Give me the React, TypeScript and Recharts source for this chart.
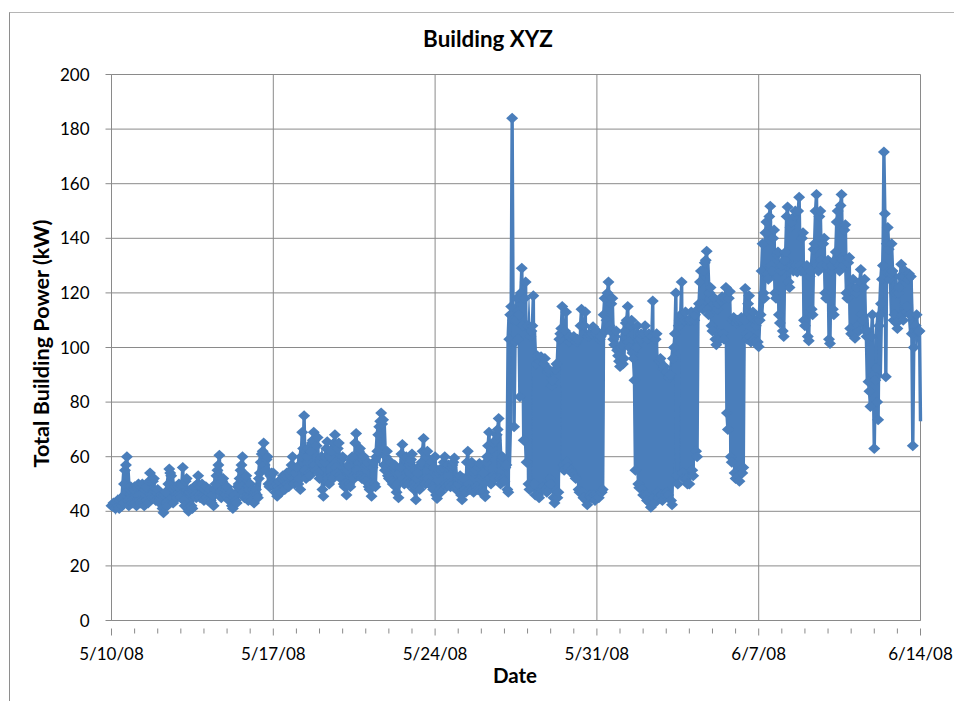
import React from "react";
import { ComposedChart, Area, Line, XAxis, YAxis, CartesianGrid } from "recharts";

const chartTitle = "Building XYZ";
const xTitle = "Date";
const yTitle = "Total Building Power (kW)";
const SAMPLES_PER_DAY = 24;

// Readings on the even hours, one row per day
const week1 = [
  42,43,41,44,41,45,43,55,60,42,49,43,
  49,42,50,43,50,42,49,43,54,45,52,44,
  48,43,46,39.5,47,42,55.5,53,43,49,45,50,
  45,56,42,52,40,48,41,49,45,53,45,50,
  44,49,44,48,43,42,50,55,60.5,45,52,46,
  49,44,47,41,46,43,50,55,60,45,53,44,
  50,44,43,48,45,54,61,65,55,60,49,54,
];
const week2 = [
  54,47,45.5,51,47,53,48,54,49,55,60,50,
  56,50,48,69,75,52,63,53,65,69,55,67,
  52,60,45.5,60,65.5,50,62,52,68,54,65,52,
  60,49,46,57,49,60,52,68.5,53,63,52,60,
  51,58,48,45.5,58,49,62,71,76,73.5,55,62,
  52,58,50,57,47,45,56,64.5,50,60,50,58,
  61,48,44.2,54,48,58,66.7,50,62,50,58,48,
];
const week3 = [
  60,44.7,55,47,56,60,49,57,49,57,59.5,48,
  50,53,44.2,52,47,62,48,58,47,55,48,57.5,
  47,54,45.3,60,69,50,65,52,68,74,50,60,
  51,57,47,112,184,71,110,103,82,129,66,124,
  108,48,106,119,46,97,45,96.6,49,96,47,92,
  50,88,43,94,47,105,115,55,113,56,104,54,
  104,52,103,47,114,45,113,42.4,105,45,107.6,44,
];
const week4 = [
  106,45,104,48,118,110,124,106,118,101,106,97,
  93,101,96,109,115,100,110,96,55,108,48.6,105,
  46,108,44,105,41.5,117,43,105,45,96,44,93,
  91,46,90,42.4,100,120,50,110,124,52,113,50,
  50,113,53,112,60,116,128,114,131,135.3,112,122,
  106,118,101,116,103,118.6,103,122,70,120.5,58,111,
  52,110,51,111,56,121.6,103,119,102,113,102,110,
];
const week5 = [
  100.3,112,138,118,146,125,151.7,128,143,118,135,109,
  130,104,135,151.5,122,146,128,150,127.7,155,128,142,
  108,130,102.5,128,112,138,156,128,150,130,140,118,
  132,101.5,130,112,135,150,128,156,130,145,118,133,
  105,125,103.4,122,106,128.6,110,125,104,87.5,78.4,112,
  63,92.5,73.5,112,125,171.6,89.3,144,125,138,110,120,
  107,122,130.5,110,128,115,127,126,64,106,112,105.8,
  73,
];

// Readings on the odd hours, one row per day
const oddHours1 = [
  42,42,43,42,44,42,50,57,44,48,44,48,
  43,49,44,49,43,48,44,51,46,51,45,47,
  44,45,41,46,43,50,54,45,48,46,49,46,
  50,44,51,41,47,42,48,46,50,46,49,45,
  48,45,47,44,46,48,53,57,47,51,47,48,
  45,46,42,45,44,49,52,57,47,52,45,48,
  45,48,47,46,52,58,62,57,59,50,53,50,
];
const oddHours2 = [
  49,50,49,48,52,49,53,50,54,57,52,54,
  51,52,60,63,55,60,54,62,66,57,64,54,
  58,48,58,63,52,60,53,65,56,63,53,59,
  50,50,55,50,59,53,65,55,62,53,59,52,
  57,49,50,56,50,60,68,73,72,57,60,53,
  57,51,56,49,50,54,61,52,59,51,57,59,
  50,49,52,49,57,62,52,60,52,57,49,56,
];
const oddHours3 = [
  46,54,48,55,58,50,56,50,56,58,49,49,
  52,46,51,48,58,50,57,48,54,49,56,48,
  53,47,58,64,52,63,53,66,70,52,59,52,
  56,48,103,115,110,102,118,112,120,108,118,58,
  50,104,108,50,94,46,95,48,94,48,91,52,
  86,45,92,45,103,107,57,106,58,102,55,103,
  53,102,48,108,47,108,44,104,46,105,46,105,
];
const oddHours4 = [
  46,103,47,112,106,120,108,116,103,104,99,95,
  100,94,106,110,102,108,98,88,100,50,103,48,
  105,46,103,43,104,45,103,47,95,46,92,46,
  47,89,44,96,105,53,108,112,54,110,52,110,
  110,55,110,62,114,124,116,128,132,114,120,108,
  116,103,114,105,117,105,118,76,118,60,110,54,
  109,53,110,54,110,105,116,104,111,103,108,102,
];
const oddHours5 = [
  110,128,120,142,127,148,130,140,120,134,112,128,
  106,132,148,124,144,130,148,130,150,130,140,110,
  128,104,126,114,136,150,130,148,132,138,120,130,
  103,128,114,132,146,130,152,132,143,120,131,107,
  122,105,120,108,124,112,122,106,106,84,104,90,
  88,80,108,116,130,149,138,136,127,128,112,109,
  120,126,112,126,113,125,112,105,100,108,106,106,
];

const evenReadings = [...week1, ...week2, ...week3, ...week4, ...week5];
const oddReadings = [...oddHours1, ...oddHours2, ...oddHours3, ...oddHours4, ...oddHours5];
const powerValues = evenReadings.flatMap((v, i) => (i < oddReadings.length ? [v, oddReadings[i]] : [v]));

const yTicks = [0, 20, 40, 60, 80, 100, 120, 140, 160, 180, 200];
const dayTicks = [0,1,2,3,4,5,6,7,8,9,10,11,12,13,14,15,16,17,18,19,20,21,22,23,24,25,26,27,28,29,30,31,32,33,34,35];
const majorDays = [0, 7, 14, 21, 28, 35];
const majorLabels = ["5/10/08", "5/17/08", "5/24/08", "5/31/08", "6/7/08", "6/14/08"];

// The samples are so dense that the markers merge: the range covered by each
// sample's neighbours is painted solid, ignoring isolated spikes.
const HALF_WINDOW = 5;
const SKIP_EXTREMES = 2;
const chartData = powerValues.map((power, i) => {
  const near = powerValues
    .slice(Math.max(0, i - HALF_WINDOW), i + HALF_WINDOW + 1)
    .sort((a, b) => a - b);
  const lo = near[Math.min(SKIP_EXTREMES, near.length - 1)];
  const hi = near[Math.max(0, near.length - 1 - SKIP_EXTREMES)];
  return { day: i / SAMPLES_PER_DAY, power, solid: [lo, hi] };
});

const FONT = "Lato, Carlito, sans-serif";
const GRID = "#8a8a8a";
const BLUE = "#4a7ebb";

function Diamond(props: any) {
  const { cx, cy, index } = props;
  if (index === chartData.length - 1) return <g key={index} />;
  return (
    <polygon
      key={index}
      points={`${cx - 6},${cy} ${cx},${cy - 5.5} ${cx + 6},${cy} ${cx},${cy + 5.5}`}
      fill={BLUE}
    />
  );
}

function DayTick(props: any) {
  const { x, y, payload } = props;
  const m = majorDays.indexOf(payload.value);
  return (
    <g>
      <line x1={x} x2={x} y1={y} y2={y + (m >= 0 ? 7 : 5)} stroke={GRID} />
      {m >= 0 && (
        <text x={x} y={y + 31} textAnchor="middle" fontFamily={FONT} fontSize={17} fill="#000">
          {majorLabels[m]}
        </text>
      )}
    </g>
  );
}

export default function App() {
  return (
    <div style={{ position: "absolute", left: 0, top: 0, width: 954, height: 701, background: "#fff", overflow: "hidden" }}>
      <div style={{ position: "absolute", left: 9, top: 12, right: -2, bottom: -2, borderLeft: "1px solid #8e8e8e", borderTop: "1px solid #b5b5b5" }} />
      <ComposedChart
        width={954}
        height={701}
        data={chartData}
        margin={{ top: 74.5, left: 51.5, right: 33.5, bottom: 40.5 }}
        style={{ position: "absolute", left: 0, top: 0 }}
      >
        <CartesianGrid stroke={GRID} verticalValues={majorDays} horizontalValues={yTicks} />
        <XAxis
          dataKey="day"
          type="number"
          domain={[0, 35]}
          ticks={dayTicks}
          interval={0}
          height={40}
          axisLine={{ stroke: GRID }}
          tickLine={false}
          tick={<DayTick />}
        />
        <YAxis
          type="number"
          domain={[0, 200]}
          ticks={yTicks}
          interval={0}
          width={60}
          axisLine={{ stroke: GRID }}
          tickLine={{ stroke: GRID }}
          tickSize={6}
          tickMargin={16}
          tick={{ fontFamily: FONT, fontSize: 17, fill: "#000" }}
        />
        <Area
          dataKey="solid"
          type="linear"
          stroke="none"
          fill={BLUE}
          fillOpacity={1}
          dot={false}
          activeDot={false}
          isAnimationActive={false}
        />
        <Line
          dataKey="power"
          type="linear"
          stroke={BLUE}
          strokeWidth={3.4}
          dot={Diamond}
          activeDot={false}
          isAnimationActive={false}
        />
        <text x={488} y={47} textAnchor="middle" fontFamily={FONT} fontSize={22.4} fontWeight={700} fill="#000">{chartTitle}</text>
        <text x={515} y={683} textAnchor="middle" fontFamily={FONT} fontSize={20.5} fontWeight={700} fill="#000">{xTitle}</text>
        <text x={49} y={343.5} transform="rotate(-90 49 343.5)" textAnchor="middle" fontFamily={FONT} fontSize={21.6} fontWeight={700} fill="#000">{yTitle}</text>
      </ComposedChart>
    </div>
  );
}
